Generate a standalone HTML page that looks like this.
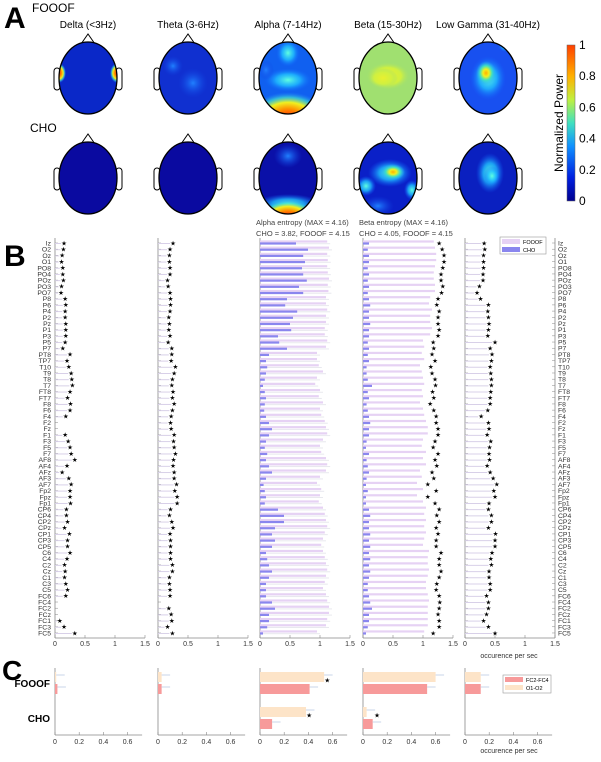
<!DOCTYPE html>
<html><head><meta charset="utf-8"><style>
body{margin:0;background:#fff;font-family:"Liberation Sans",sans-serif;}
svg text{font-family:"Liberation Sans",sans-serif;}
</style></head><body>
<svg id="fig" width="601" height="757" viewBox="0 0 601 757" xmlns="http://www.w3.org/2000/svg">
<defs>
<radialGradient id="gRed"><stop offset="0" stop-color="#ff2000"/><stop offset="0.35" stop-color="#ff9000"/><stop offset="0.6" stop-color="#f0f020"/><stop offset="0.8" stop-color="#40e0d0" stop-opacity="0.7"/><stop offset="1" stop-color="#2080ff" stop-opacity="0"/></radialGradient>
<radialGradient id="gYel"><stop offset="0" stop-color="#ffb000"/><stop offset="0.3" stop-color="#f0f020"/><stop offset="0.6" stop-color="#40e0c0"/><stop offset="1" stop-color="#20a0ff" stop-opacity="0"/></radialGradient>
<radialGradient id="gCyan"><stop offset="0" stop-color="#60ffe0"/><stop offset="0.5" stop-color="#20c0ff" stop-opacity="0.8"/><stop offset="1" stop-color="#1060ff" stop-opacity="0"/></radialGradient>
<radialGradient id="gLight"><stop offset="0" stop-color="#2080ff"/><stop offset="1" stop-color="#1040e0" stop-opacity="0"/></radialGradient>
<radialGradient id="gYG"><stop offset="0" stop-color="#e8f030"/><stop offset="0.6" stop-color="#d0f040"/><stop offset="1" stop-color="#a0e070" stop-opacity="0"/></radialGradient>
<linearGradient id="cbarTop" x1="0" y1="1" x2="0" y2="0"><stop offset="0" stop-color="#00008f"/><stop offset="0.15" stop-color="#0020e0"/><stop offset="0.35" stop-color="#1090ff"/><stop offset="0.5" stop-color="#40e0c0"/><stop offset="0.65" stop-color="#c0f040"/><stop offset="0.8" stop-color="#ffb000"/><stop offset="1" stop-color="#ff4000"/></linearGradient>
</defs>
<g id="panelA"></g>
<g id="panelB"></g>
<g id="panelC"></g>
</svg>
<script>
const NS="http://www.w3.org/2000/svg";
function mk(tag,attrs,parent,txt){const e=document.createElementNS(NS,tag);for(const k in attrs)e.setAttribute(k,attrs[k]);if(txt!==undefined)e.textContent=txt;parent.appendChild(e);return e;}

// ---------- Panel A ----------
const bands=["Delta (<3Hz)","Theta (3-6Hz)","Alpha (7-14Hz)","Beta (15-30Hz)","Low Gamma (31-40Hz)"];
const headX=[88,188,288,388,488];
const rowY=[78,178];
const cbTicks=["0","0.2","0.4","0.6","0.8","1"];
const A=document.getElementById('panelA');
let t=mk('text',{x:4,y:28,'font-size':30,'font-weight':'bold'},A,'A');

t=mk('text',{x:32,y:12,'font-size':12},A,'FOOOF');

t=mk('text',{x:30,y:132,'font-size':12},A,'CHO');

bands.forEach((b,i)=>{const tt=mk('text',{x:headX[i],y:28,'font-size':10,'text-anchor':'middle'},A,b);
});
const maps=[
 ["#0a28c8",[["gRed",-29,-5,7,10],["gRed",29,-5,7,10]]],
 ["#1030d0",[["gLight",5,5,15,15],["gLight",-15,-12,10,10]]],
 ["#1060f0",[["gCyan",0,-25,12,14],["gCyan",0,2,24,12],["gLight",-22,-8,8,10],["gRed",0,40,40,26]]],
 ["#a0e070",[["gYG",0,-2,22,14],["gYG",-5,0,15,10]]],
 ["#1850f0",[["gCyan",0,0,18,22],["gYel",-2,-5,10,12],["gCyan",18,-32,8,6]]],
 ["#0a0aa0",[]],
 ["#0a0aa0",[]],
 ["#0a10a8",[["gLight",0,-22,14,12],["gCyan",0,26,32,10],["gRed",0,38,30,16]]],
 ["#0a20c8",[["gCyan",2,-5,22,14],["gYel",5,-6,12,8],["gCyan",-22,8,10,10],["gCyan",24,12,8,10],["gLight",-10,28,16,10]]],
 ["#0a20c0",[["gCyan",2,-5,14,20],["gCyan",4,-2,8,10],["gLight",18,-32,8,6]]]
];
for(let r=0;r<2;r++)for(let c=0;c<5;c++){
 const cx=headX[c],cy=rowY[r],m=maps[r*5+c];
 const g=mk('g',{},A);
 
 const cid='clip'+r+c;
 const cp=mk('clipPath',{id:cid},g);mk('ellipse',{cx:cx,cy:cy,rx:29,ry:36},cp);
 mk('path',{d:`M${cx-7} ${cy-34} L${cx} ${cy-44} L${cx+7} ${cy-34}`,fill:'#fff',stroke:'#000','stroke-width':1}, g);
 mk('rect',{x:cx-34,y:cy-10,width:6,height:22,rx:3,fill:'#fff',stroke:'#000','stroke-width':1},g);
 mk('rect',{x:cx+28,y:cy-10,width:6,height:22,rx:3,fill:'#fff',stroke:'#000','stroke-width':1},g);
 const inner=mk('g',{'clip-path':`url(#${cid})`},g);
 mk('rect',{x:cx-31,y:cy-38,width:62,height:76,fill:m[0]},inner);
 m[1].forEach(bb=>mk('ellipse',{cx:cx+bb[1],cy:cy+bb[2],rx:bb[3],ry:bb[4],fill:`url(#${bb[0]})`},inner));
 mk('ellipse',{cx:cx,cy:cy,rx:29,ry:36,fill:'none',stroke:'#000','stroke-width':1.3},g);
}
const cb=mk('rect',{x:567,y:45,width:8,height:156,fill:'url(#cbarTop)',stroke:'#666','stroke-width':0.5},A);

cbTicks.forEach((tk,i)=>{const y=201-i*31.2;const tt=mk('text',{x:579,y:y+4,'font-size':12},A,tk);
});
t=mk('text',{x:563,y:123,'font-size':12,'text-anchor':'middle',transform:'rotate(-90 563 123)'},A,'Normalized Power');


// ---------- Panel B ----------
const channels=["Iz","O2","Oz","O1","PO8","PO4","POz","PO3","PO7","P8","P6","P4","P2","Pz","P1","P3","P5","P7","PT8","TP7","T10","T9","T8","T7","FT8","FT7","F8","F6","F4","F2","Fz","F1","F3","F5","F7","AF8","AF4","AFz","AF3","AF7","Fp2","Fpz","Fp1","CP6","CP4","CP2","CPz","CP1","CP3","CP5","C6","C4","C2","Cz","C1","C3","C5","FC6","FC4","FC2","FCz","FC1","FC3","FC5"];
const deltaStar=[0.15,0.14,0.12,0.11,0.13,0.13,0.14,0.11,0.1,0.17,0.18,0.17,0.17,0.18,0.18,0.18,0.17,0.13,0.25,0.2,0.23,0.27,0.28,0.29,0.25,0.21,0.26,0.25,0.18,null,null,0.17,0.22,0.25,0.27,0.33,0.2,0.12,0.23,0.27,0.25,0.25,0.26,0.19,0.19,0.21,0.16,0.24,0.21,0.21,0.25,0.2,0.16,0.17,0.16,0.18,0.21,0.18,null,null,null,0.08,0.15,0.33];
const thetaStar=[0.25,0.2,0.19,0.19,0.2,0.2,0.16,0.17,0.2,0.21,0.21,0.2,0.18,0.19,0.18,0.2,0.17,0.23,0.23,0.22,0.29,0.27,0.24,0.23,0.25,0.24,0.27,0.24,0.22,0.21,0.22,0.27,0.26,0.27,0.29,0.26,0.25,0.27,0.27,0.31,0.28,0.32,0.32,0.21,0.19,0.23,0.25,0.2,0.21,0.21,0.21,0.21,0.24,0.24,0.19,0.19,0.2,0.2,null,0.18,0.22,0.23,0.16,0.24];
const alphaFooof=[1.12,1.15,1.12,1.13,1.12,1.13,1.15,1.13,1.14,1.1,1.1,1.12,1.1,1.1,1.08,1.08,1.12,1.1,0.95,0.95,0.98,1.05,0.95,0.92,1.0,0.98,1.05,1.0,1.02,1.08,1.1,1.12,1.05,1.0,1.02,1.1,1.12,1.1,1.0,0.95,1.02,1.0,0.98,1.05,1.08,1.1,1.12,1.08,1.05,1.02,1.05,1.08,1.1,1.12,1.1,1.08,1.05,1.1,1.12,1.15,1.15,1.12,1.1,0.95];
const alphaCho=[0.6,0.8,0.72,0.75,0.7,0.72,0.78,0.65,0.72,0.45,0.42,0.62,0.55,0.5,0.52,0.3,0.32,0.45,0.15,0.1,0.12,0.1,0.08,0.05,0.08,0.1,0.08,0.07,0.1,0.15,0.2,0.15,0.1,0.08,0.12,0.1,0.15,0.2,0.1,0.06,0.08,0.1,0.08,0.3,0.4,0.4,0.25,0.2,0.25,0.2,0.1,0.12,0.15,0.2,0.15,0.1,0.1,0.1,0.2,0.25,0.15,0.15,0.12,0.05];
const betaFooof=[1.18,1.2,1.22,1.22,1.2,1.18,1.18,1.2,1.2,1.12,1.1,1.15,1.12,1.12,1.15,1.12,1.0,1.02,0.98,1.02,0.95,0.98,1.0,1.02,0.98,1.0,0.95,1.0,1.02,1.05,1.08,1.08,1.0,0.98,1.05,1.0,1.05,0.95,0.98,0.9,1.0,0.9,1.0,1.05,1.02,1.05,1.02,1.05,1.02,1.0,1.1,1.08,1.08,1.1,1.08,1.05,1.05,1.08,1.1,1.08,1.08,1.08,1.08,1.02];
const betaCho=[0.1,0.08,0.1,0.1,0.08,0.1,0.08,0.1,0.08,0.1,0.12,0.1,0.1,0.12,0.1,0.1,0.08,0.1,0.08,0.1,0.06,0.06,0.08,0.15,0.08,0.1,0.06,0.08,0.1,0.12,0.1,0.1,0.06,0.05,0.1,0.06,0.08,0.1,0.06,0.05,0.08,0.05,0.05,0.1,0.12,0.1,0.1,0.12,0.1,0.12,0.1,0.12,0.1,0.12,0.1,0.08,0.08,0.1,0.12,0.15,0.1,0.1,0.08,0.05];
const betaStar=[1.27,1.32,1.35,1.35,1.33,1.3,1.3,1.33,1.31,1.25,1.23,1.27,1.25,1.25,1.27,1.25,1.17,1.18,1.15,1.2,1.13,1.15,1.2,1.21,1.16,1.18,1.12,1.18,1.22,1.22,1.25,1.25,1.2,1.17,1.25,1.2,1.23,1.15,1.18,1.08,1.22,1.08,1.2,1.27,1.23,1.27,1.22,1.25,1.22,1.22,1.3,1.27,1.27,1.3,1.27,1.23,1.22,1.27,1.28,1.27,1.25,1.27,1.27,1.17];
const gammaStar=[0.32,0.33,0.31,0.31,0.31,0.3,0.3,0.24,0.2,0.26,0.39,0.38,0.39,0.4,0.39,0.38,0.5,0.42,0.45,0.44,0.42,0.43,0.44,0.44,0.43,0.42,0.42,0.38,0.27,0.39,0.4,0.37,0.43,0.41,0.4,0.41,0.37,0.42,0.47,0.53,0.48,0.5,0.4,0.39,0.44,0.44,0.39,0.51,0.5,0.5,0.45,0.43,0.44,0.4,0.4,0.42,0.42,0.36,0.39,0.39,0.36,0.31,0.39,0.5];
const bTicks=[0,0.5,1,1.5];
const bAxis0=[55,158,260,363,465];
const bUnit=60, bY0=243, bDy=6.19, bBottom=638;
const B=document.getElementById('panelB');
function bx(p,v){return bAxis0[p]+v*bUnit;}
function by(i){return bY0+i*bDy;}
t=mk('text',{x:4,y:266,'font-size':30,'font-weight':'bold'},B,'B');

[["Alpha entropy (MAX = 4.16)",256,225],["CHO = 3.82, FOOOF = 4.15",256,236],["Beta entropy (MAX = 4.16)",359,225],["CHO = 4.05, FOOOF = 4.15",359,236]].forEach(a=>{
 const tt=mk('text',{x:a[1],y:a[2],'font-size':7.5,fill:'#444'},B,a[0]);
 });
function star(x,y,p){const s=mk('text',{x:x,y:y+2.3,'font-size':6.5,'text-anchor':'middle'},p,'★');
 }
for(let p=0;p<5;p++){
 const g=mk('g',{},B);
 
 mk('line',{x1:bAxis0[p],y1:238,x2:bAxis0[p],y2:bBottom,stroke:'#888','stroke-width':0.8},g);
 mk('line',{x1:bAxis0[p],y1:bBottom,x2:bx(p,1.5),y2:bBottom,stroke:'#888','stroke-width':0.8},g);
 bTicks.forEach(tk=>{mk('line',{x1:bx(p,tk),y1:bBottom,x2:bx(p,tk),y2:bBottom-3,stroke:'#888','stroke-width':0.6},g);
  const tt=mk('text',{x:bx(p,tk),y:bBottom+8,'font-size':7,'text-anchor':'middle',fill:'#333'},g,String(tk));
  });
 channels.forEach((ch,i)=>{
  const y=by(i);
  if(p===2){
   mk('rect',{x:bx(p,0),y:y-2.6,width:alphaFooof[i]*bUnit,height:2.2,fill:'#e6d2f4'},g);
   mk('rect',{x:bx(p,0),y:y+0.2,width:(alphaFooof[i]+0.05)*bUnit,height:1,fill:'#e8e8ee'},g);
   mk('rect',{x:bx(p,0),y:y-0.6,width:alphaCho[i]*bUnit,height:2.2,fill:'#8a86ee'},g);
  }else if(p===3){
   mk('rect',{x:bx(p,0),y:y-2.6,width:betaFooof[i]*bUnit,height:2.2,fill:'#e6d2f4'},g);
   mk('rect',{x:bx(p,0),y:y-0.6,width:betaCho[i]*bUnit,height:2.2,fill:'#8a86ee'},g);
   star(bx(p,betaStar[i]),y,g);
  }else{
   const arr=p===0?deltaStar:(p===1?thetaStar:gammaStar);
   const v=arr[i];
   mk('line',{x1:bAxis0[p],y1:y,x2:bAxis0[p]+3,y2:y,stroke:'#888','stroke-width':0.5},g);
   if(v!==null){mk('line',{x1:bAxis0[p],y1:y+0.5,x2:bx(p,v-0.05),y2:y+0.5,stroke:'#d8d0e8','stroke-width':1},g);
    star(bx(p,v),y,g);}
  }
 });
}
channels.forEach((ch,i)=>{
 const tl=mk('text',{x:51,y:by(i)+2.5,'font-size':6.8,'text-anchor':'end',fill:'#333'},B,ch);
 
 const tr=mk('text',{x:558,y:by(i)+2.5,'font-size':6.8,fill:'#333'},B,ch);
 
 mk('line',{x1:552,y1:by(i),x2:555,y2:by(i),stroke:'#888','stroke-width':0.5},B);
});
mk('line',{x1:555,y1:238,x2:555,y2:bBottom,stroke:'#888','stroke-width':0.8},B);
t=mk('text',{x:509,y:658,'font-size':7,'text-anchor':'middle',fill:'#333'},B,'occurence per sec');

const lg=mk('g',{},B);
mk('rect',{x:500,y:237,width:46,height:17,fill:'#fff',stroke:'#999','stroke-width':0.6},lg);
mk('rect',{x:502,y:239,width:18,height:5,fill:'#e6d2f4'},lg);
mk('rect',{x:502,y:247,width:18,height:5,fill:'#8a86ee'},lg);
mk('text',{x:523,y:244,'font-size':5.5},lg,'FOOOF');
mk('text',{x:523,y:252,'font-size':5.5},lg,'CHO');

// ---------- Panel C ----------
const cTicks=[0,0.2,0.4,0.6];
const cFooofO=[0.01,0.03,0.53,0.6,0.13];
const cFooofF=[0.02,0.03,0.41,0.53,0.13];
const cChoO=[0,0,0.38,0.03,0];
const cChoF=[0,0,0.1,0.08,0];
const cStars=[[2,"fo",0.54],[2,"co",0.39],[3,"co",0.1]];
const cAxis0=[55,158,260,363,465], cUnit=121;
const C=document.getElementById('panelC');
function cx_(p,v){return cAxis0[p]+v*cUnit;}
t=mk('text',{x:2,y:680,'font-size':28,'font-weight':'bold'},C,'C');

t=mk('text',{x:50,y:687,'font-size':10,'font-weight':'bold','text-anchor':'end'},C,'FOOOF');

t=mk('text',{x:50,y:722,'font-size':10,'font-weight':'bold','text-anchor':'end'},C,'CHO');

const cy={fo:677,ff:689,co:712,cf:724};
for(let p=0;p<5;p++){
 const g=mk('g',{},C);
 
 mk('line',{x1:cAxis0[p],y1:668,x2:cAxis0[p],y2:735,stroke:'#888','stroke-width':0.8},g);
 mk('line',{x1:cAxis0[p],y1:735,x2:cx_(p,0.72),y2:735,stroke:'#888','stroke-width':0.8},g);
 cTicks.forEach(tk=>{mk('line',{x1:cx_(p,tk),y1:735,x2:cx_(p,tk),y2:732,stroke:'#888','stroke-width':0.6},g);
  const tt=mk('text',{x:cx_(p,tk),y:744,'font-size':7,'text-anchor':'middle',fill:'#333'},g,String(tk));
  });
 [["fo",cFooofO[p],"#fde4c8"],["ff",cFooofF[p],"#f79a9a"],["co",cChoO[p],"#fde4c8"],["cf",cChoF[p],"#f79a9a"]].forEach(b=>{
  if(b[1]>0){const r=mk('rect',{x:cAxis0[p],y:cy[b[0]]-5,width:b[1]*cUnit,height:10,fill:b[2]},g);
   
   mk('line',{x1:cx_(p,b[1]),y1:cy[b[0]]-2,x2:cx_(p,b[1]+0.07),y2:cy[b[0]]-2,stroke:'#c8d4e8','stroke-width':1},g);}
 });
}
cStars.forEach(s=>star(cx_(s[0],s[2])+2,cy[s[1]]+3,C));
t=mk('text',{x:509,y:753,'font-size':7,'text-anchor':'middle',fill:'#333'},C,'occurence per sec');

const lc=mk('g',{},C);
mk('rect',{x:503,y:675,width:48,height:18,fill:'#fff',stroke:'#999','stroke-width':0.6},lc);
mk('rect',{x:505,y:677,width:18,height:5,fill:'#f79a9a'},lc);
mk('rect',{x:505,y:685,width:18,height:5,fill:'#fde4c8'},lc);
mk('text',{x:526,y:682,'font-size':5.5},lc,'FC2-FC4');
mk('text',{x:526,y:690,'font-size':5.5},lc,'O1-O2');
</script>
</body></html>
